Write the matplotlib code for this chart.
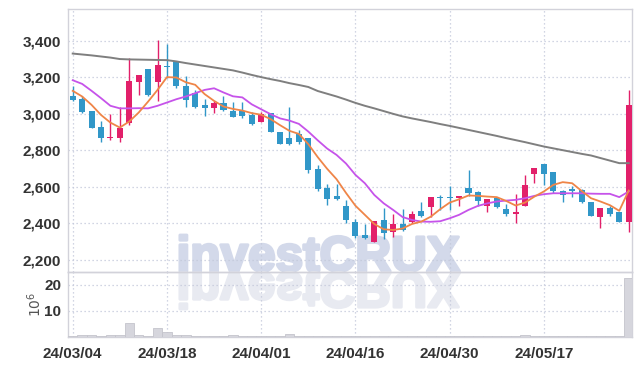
import numpy as np
import matplotlib
matplotlib.use("Agg")
import matplotlib.pyplot as plt
from matplotlib import font_manager
from matplotlib.font_manager import FontProperties
from matplotlib.textpath import TextPath
from matplotlib.patches import PathPatch
from matplotlib.path import Path
from matplotlib.ticker import FuncFormatter

# dados diarios (OHLC), 60 pregoes
abert = [3100, 3080, 3015, 2930, 2865, 2870, 2950, 3175, 3245, 3175,
         3260, 3290, 3155, 3115, 3050, 3030, 3060, 3015, 3015, 2995,
         2955, 3005, 2900, 2868, 2890, 2868, 2700, 2595, 2550, 2497,
         2408, 2335, 2300, 2420, 2352, 2397, 2408, 2468, 2492, 2545,
         2545, 2537, 2595, 2570, 2498, 2540, 2480, 2449, 2498, 2673,
         2727, 2682, 2575, 2590, 2585, 2518, 2434, 2485, 2463, 2410]
maxima = [3155, 3095, 3015, 2960, 3000, 3035, 3305, 3210, 3245, 3405,
          3385, 3290, 3205, 3130, 3080, 3070, 3100, 3065, 3065, 3012,
          3012, 3005, 2900, 3040, 2910, 2868, 2722, 2615, 2615, 2530,
          2425, 2398, 2414, 2483, 2450, 2478, 2470, 2516, 2545, 2554,
          2607, 2551, 2690, 2575, 2532, 2545, 2505, 2560, 2664, 2705,
          2727, 2682, 2582, 2606, 2590, 2518, 2486, 2498, 2465, 3130]
minima = [3070, 3005, 2925, 2845, 2855, 2845, 2940, 3105, 3095, 3070,
          3195, 3140, 3040, 3030, 2990, 3005, 3015, 2980, 2975, 2938,
          2955, 2898, 2835, 2832, 2835, 2677, 2576, 2502, 2528, 2400,
          2320, 2313, 2299, 2313, 2324, 2359, 2405, 2437, 2437, 2475,
          2475, 2495, 2550, 2495, 2465, 2487, 2443, 2401, 2496, 2620,
          2613, 2566, 2520, 2542, 2510, 2441, 2374, 2438, 2410, 2355]
fecha = [3075, 3010, 2925, 2870, 2875, 2925, 3180, 3210, 3105, 3265,
         3254, 3150, 3075, 3040, 3030, 3060, 3020, 2985, 2990, 2942,
         2998, 2898, 2837, 2836, 2848, 2690, 2591, 2536, 2535, 2420,
         2332, 2318, 2414, 2346, 2397, 2366, 2450, 2443, 2543, 2540,
         2541, 2550, 2565, 2525, 2532, 2492, 2452, 2460, 2611, 2704,
         2668, 2580, 2553, 2580, 2518, 2441, 2485, 2449, 2410, 3050]

# medias moveis
mm5 = [3126, 3095, 3049, 2994, 2952, 2925, 2958, 3007, 3067, 3131,
       3201, 3199, 3173, 3159, 3108, 3071, 3040, 3027, 3018, 3004,
       2995, 2971, 2938, 2907, 2890, 2834, 2763, 2699, 2642, 2567,
       2497, 2447, 2397, 2368, 2364, 2372, 2397, 2410, 2437, 2478,
       2514, 2532, 2553, 2551, 2547, 2544, 2523, 2498, 2514, 2547,
       2575, 2611, 2626, 2620, 2578, 2538, 2520, 2500, 2469, 2580]
mm20 = [3184, 3164, 3126, 3086, 3044, 3030, 3030, 3031, 3030, 3044,
        3062, 3080, 3095, 3113, 3131, 3140, 3117, 3096, 3090, 3052,
        3025, 2998, 2975, 2963, 2945, 2903, 2855, 2810, 2775, 2728,
        2666, 2620, 2556, 2510, 2474, 2435, 2419, 2410, 2409, 2412,
        2428, 2447, 2474, 2496, 2510, 2520, 2525, 2529, 2538, 2551,
        2560, 2565, 2565, 2565, 2565, 2563, 2562, 2562, 2544, 2575]
mm120 = [3330, 3325, 3320, 3314, 3308, 3300, 3298, 3297, 3296, 3295,
         3294, 3287, 3278, 3270, 3262, 3254, 3246, 3238, 3226, 3213,
         3201, 3190, 3180, 3168, 3158, 3147, 3125, 3110, 3095, 3078,
         3060, 3044, 3030, 3015, 3000, 2986, 2975, 2965, 2955, 2944,
         2934, 2923, 2912, 2901, 2890, 2879, 2867, 2856, 2845, 2833,
         2821, 2811, 2801, 2791, 2781, 2772, 2758, 2744, 2730, 2730]

# volume em milhoes
volume = [0.3, 0.6, 0.6, 0.2, 0.6, 0.6, 5.2, 0.6, 0.3, 3.3,
          1.9, 0.6, 0.6, 0.5, 0.5, 0.3, 0.3, 0.6, 0.3, 0.2,
          0.2, 0.2, 0.3, 1.0, 0.3, 0.3, 0.3, 0.3, 0.3, 0.3,
          0.2, 0.2, 0.2, 0.4, 0.4, 0.3, 0.2, 0.2, 0.4, 0.4,
          0.4, 0.4, 0.2, 0.2, 0.4, 0.4, 0.2, 0.2, 0.7, 0.4,
          0.4, 0.4, 0.2, 0.2, 0.2, 0.2, 0.4, 0.2, 0.2, 22.6]

pos_datas = [0, 10, 20, 30, 40, 50]
rot_datas = ['24/03/04', '24/03/18', '24/04/01', '24/04/16', '24/04/30', '24/05/17']
ticks_preco = [2200, 2400, 2600, 2800, 3000, 3200, 3400]
ticks_vol = [10, 20]


def acha_fonte(nomes):
    for n in nomes:
        try:
            font_manager.findfont(FontProperties(family=n), fallback_to_default=False)
            return n
        except ValueError:
            pass
    return 'DejaVu Sans'


fonte_eixo = acha_fonte(['Liberation Sans Narrow', 'Liberation Sans', 'DejaVu Sans'])
fonte_marca = acha_fonte(['Liberation Sans', 'DejaVu Sans'])

COR_ALTA = '#e2206a'
COR_BAIXA = '#3197c8'
COR_GRADE = '#c3c8da'
COR_BORDA = '#d2d2da'

fig = plt.figure(figsize=(6.42, 3.66), dpi=100)
ax = fig.add_axes([68/642, 1-272/366, 564/642, 263/366])
axv = fig.add_axes([68/642, 1-337/366, 564/642, 65/366], sharex=ax)

x = np.arange(len(fecha))
o = np.array(abert, dtype=float)
c = np.array(fecha, dtype=float)
h = np.array(maxima, dtype=float)
l = np.array(minima, dtype=float)
cores = [COR_ALTA if cc > oo else COR_BAIXA for oo, cc in zip(o, c)]

# pavios e corpos
ax.vlines(x, l, h, colors=cores, linewidth=1.0, zorder=3)
base = np.minimum(o, c)
altura = np.maximum(np.abs(c - o), 5)
ax.bar(x, altura, bottom=base, width=0.64, color=cores, linewidth=0, zorder=4)

ax.plot(x, mm120, color='#7f7f7f', lw=1.4, zorder=5)
ax.plot(x, mm20, color='#c653ea', lw=1.3, zorder=5)
ax.plot(x, mm5, color='#ef8548', lw=1.3, zorder=5)

axv.bar(x, volume, width=1.0, color='#d6d6dd', edgecolor='#c4c4cc', linewidth=0.6, zorder=3)

for a in (ax, axv):
    a.set_facecolor('none')
    a.grid(True, linestyle=(0, (1, 2.2)), color=COR_GRADE, linewidth=0.9, zorder=1)
    for s in a.spines.values():
        s.set_color(COR_BORDA)
        s.set_linewidth(1.0)
    a.tick_params(length=0, pad=5, labelcolor='#333333')

ax.set_xlim(-0.5, 59.35)
ax.set_ylim(2134, 3574)
ax.set_yticks(ticks_preco)
ax.yaxis.set_major_formatter(FuncFormatter(lambda v, p: f'{v:,.0f}'))
ax.set_xticks(pos_datas)
ax.tick_params(axis='x', labelbottom=False)
for t in ax.get_yticklabels():
    t.set_fontfamily(fonte_eixo)
    t.set_fontweight('bold')
    t.set_fontsize(11)

axv.set_ylim(0, 25)
axv.set_yticks(ticks_vol)
axv.set_xticks(pos_datas)
axv.set_xticklabels(rot_datas)
axv.tick_params(axis='x', pad=7)
for t in axv.get_yticklabels() + axv.get_xticklabels():
    t.set_fontfamily(fonte_eixo)
    t.set_fontweight('bold')
    t.set_fontsize(11)
axv.set_ylabel(r'$10^6$', fontsize=10, color='#555555', labelpad=0)

# marca d'agua com reflexo (contorno grosso p/ ficar mais pesada)
tp = TextPath((0, 0), 'investCRUX', size=49.5,
              prop=FontProperties(family=fonte_marca, weight='bold'))
bb = tp.get_extents()
v = tp.vertices
px = 180 + (v[:, 0] - bb.x0)
for sinal, cor in ((1, '#d3d9ea'), (-1, '#e8eaf1')):
    py = 271 - sinal * v[:, 1]
    if sinal < 0:
        py = py + 2
    verts = np.column_stack([px / 642, 1 - py / 366])
    fig.add_artist(PathPatch(Path(verts, tp.codes), facecolor=cor, edgecolor=cor,
                             linewidth=2.2, joinstyle='round',
                             transform=fig.transFigure, zorder=-1))

fig.savefig('out.png', dpi=100)
